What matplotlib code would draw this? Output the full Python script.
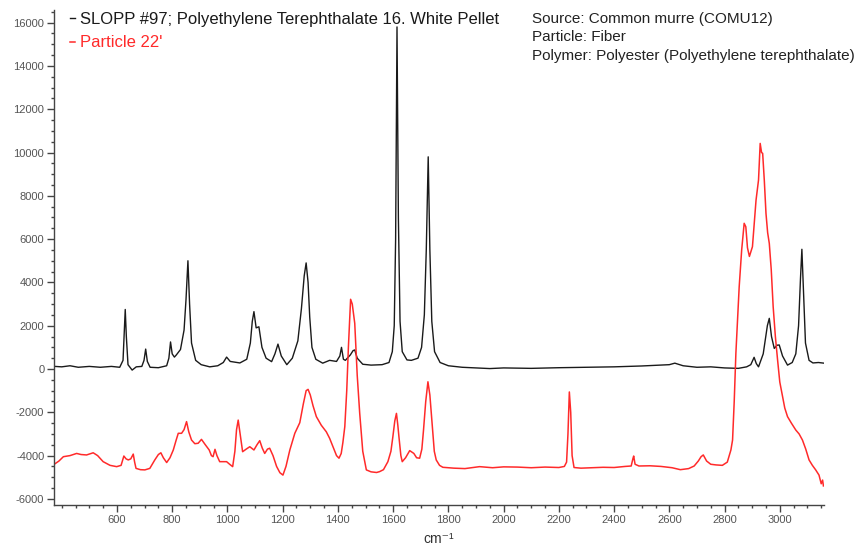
import matplotlib
matplotlib.use("Agg")
import matplotlib.pyplot as plt
from matplotlib.ticker import MultipleLocator

plt.rcParams['font.family'] = ['Liberation Sans', 'DejaVu Sans']
plt.rcParams['axes.unicode_minus'] = False

# ---- data ----
series_labels = ["SLOPP #97; Polyethylene Terephthalate 16. White Pellet", "Particle 22'"]

ref_x = [375, 400, 430, 460, 500, 540, 580, 610, 622, 627, 630, 634, 640, 655, 670, 690, 698, 704, 710, 720,
         750, 780, 788, 794, 800, 808, 815, 830, 843, 850, 857, 863, 870, 885, 905, 936, 965, 985, 997, 1010,
         1045, 1070, 1083, 1090, 1096, 1104, 1114, 1125, 1140, 1160, 1172, 1183, 1195, 1215, 1235, 1255, 1268,
         1278, 1285, 1292, 1298, 1306, 1320, 1345, 1370, 1395, 1407, 1413, 1420, 1427, 1445, 1455, 1461, 1470,
         1490, 1520, 1560, 1585, 1597, 1604, 1609, 1614, 1619, 1625, 1633, 1650, 1666, 1690, 1703, 1713, 1720,
         1727, 1733, 1740, 1750, 1770, 1800, 1850, 1900, 1950, 2000, 2100, 2200, 2300, 2400, 2500, 2600, 2620,
         2650, 2700, 2750, 2800, 2850, 2880, 2895, 2907, 2915, 2923, 2940, 2955, 2962, 2970, 2980, 2990, 2998,
         3010, 3028, 3045, 3058, 3068, 3075, 3080, 3086, 3093, 3106, 3120, 3140, 3160]
ref_y = [120, 100, 150, 80, 120, 80, 120, 80, 400, 1800, 2750, 1500, 200, -50, 100, 120, 400, 920, 350, 80,
         60, 150, 500, 1250, 700, 550, 650, 900, 1800, 3200, 5000, 3000, 1200, 400, 200, 100, 150, 300, 550, 350,
         280, 450, 1200, 2200, 2650, 1900, 1950, 1000, 500, 340, 700, 1150, 600, 200, 500, 1300, 2800,
         4300, 4900, 4000, 2400, 1000, 450, 270, 400, 350, 600, 1000, 450, 400, 650, 850, 880, 500,
         220, 180, 200, 300, 800, 2000, 6000, 15800, 7000, 2200, 800, 420, 400, 500, 1000, 2500, 5500,
         9800, 5500, 2200, 800, 300, 150, 80, 50, 20, 50, 30, 60, 80, 100, 140, 200, 270,
         150, 80, 100, 50, 30, 100, 200, 540, 250, 100, 700, 2000, 2340, 1500, 950, 1100, 1110,
         600, 180, 300, 700, 2000, 4200, 5530, 3500, 1200, 400, 280, 300, 270]

part_x = [373, 390, 406, 430, 454, 470, 490, 514, 530, 550, 575, 599, 615, 625, 633, 641, 650, 659, 664, 669,
          685, 701, 719, 737, 750, 759, 768, 780, 792, 804, 814, 822, 834, 843, 852, 860, 870, 882, 894, 906,
          920, 934, 942, 948, 955, 962, 972, 985, 997, 1008, 1019, 1027, 1033, 1039, 1045, 1055, 1068, 1081,
          1096, 1107, 1117, 1126, 1135, 1145, 1153, 1165, 1178, 1190, 1201, 1212, 1226, 1244, 1262, 1275, 1285,
          1292, 1300, 1310, 1322, 1340, 1358, 1370, 1382, 1395, 1404, 1412, 1418, 1425, 1432, 1438, 1446, 1452,
          1461, 1470, 1479, 1490, 1503, 1520, 1540, 1551, 1565, 1581, 1592, 1599, 1606, 1612, 1617, 1621, 1628,
          1633, 1645, 1660, 1675, 1685, 1696, 1704, 1710, 1718, 1726, 1733, 1742, 1749, 1756, 1768, 1780, 1820,
          1860, 1913, 1960, 2000, 2050, 2100, 2150, 2200, 2220, 2228, 2233, 2238, 2243, 2248, 2255, 2280, 2320,
          2360, 2400, 2440, 2462, 2468, 2471, 2476, 2490, 2530, 2570, 2610, 2640, 2670, 2690, 2705, 2715, 2723,
          2735, 2750, 2769, 2792, 2810, 2823, 2829, 2835, 2841, 2847, 2853, 2862, 2871, 2877, 2883, 2890, 2901,
          2908, 2914, 2923, 2929, 2934, 2938, 2944, 2950, 2956, 2962, 2969, 2976, 2984, 2992, 3000, 3010, 3018,
          3028, 3042, 3058, 3070, 3082, 3094, 3106, 3118, 3130, 3142, 3150, 3155, 3158]
part_y = [-4400, -4250, -4050, -4000, -3900, -3950, -3970, -3870, -4000, -4280, -4450, -4510, -4450, -4020, -4150,
          -4200, -4150, -3930, -4300, -4590, -4650, -4660, -4590, -4200, -3950, -3870, -4100, -4320, -4100, -3740,
          -3300, -2970, -2970, -2800, -2430, -2900, -3280, -3450, -3430, -3250, -3500, -3740, -4000, -4050, -3710,
          -4000, -4280, -4280, -4280, -4400, -4510, -3800, -2800, -2360, -2900, -3820, -3700, -3590, -3740, -3500,
          -3310, -3650, -3900, -3700, -3660, -4000, -4500, -4790, -4900, -4500, -3740, -2970, -2480, -1600, -1000,
          -940, -1200, -1700, -2200, -2600, -2900, -3200, -3590, -4000, -4120, -3900, -3400, -2660, -1000, 1000,
          3220, 3000, 2110, -300, -2050, -3800, -4660, -4750, -4780, -4740, -4650, -4280, -3800, -3130, -2400,
          -2050, -2600, -3130, -4000, -4280, -4100, -3770, -3900, -4100, -4120, -3700, -2820, -1500, -590, -1200,
          -2660, -3800, -4200, -4450, -4540, -4580, -4600, -4510, -4560, -4520, -4530, -4560, -4530, -4550, -4500,
          -4300, -3000, -1060, -2000, -4000, -4550, -4580, -4560, -4540, -4550, -4500, -4480, -4150, -4020, -4400,
          -4480, -4470, -4500, -4560, -4650, -4600, -4480, -4250, -4050, -3970, -4250, -4400, -4430, -4450, -4300,
          -3740, -3280, -1500, 720, 2300, 3800, 5500, 6730, 6570, 5600, 5200, 5650, 6800, 7800, 8730, 10420, 10000,
          9960, 8700, 7190, 6300, 5800, 4600, 2880, 1500, 420, -600, -1280, -1800, -2200, -2500, -2820, -3000,
          -3280, -3700, -4200, -4450, -4660, -4900, -5300, -5130, -5400]

info_lines = ["Source: Common murre (COMU12)", "Particle: Fiber",
              "Polymer: Polyester (Polyethylene terephthalate)"]

x_major = list(range(600, 3001, 200))
y_major = list(range(-6000, 16001, 2000))

# ---- figure ----
fig = plt.figure(figsize=(8.61, 5.50), dpi=100)
ax = fig.add_axes([0.0627, 0.0818, 0.957 - 0.0627, 0.9818 - 0.0818])

l1, = ax.plot(ref_x, ref_y, color='#1a1a1a', lw=1.0)
l2, = ax.plot(part_x, part_y, color='#ff2a2a', lw=1.1)

ax.set_xlim(372, 3160)
ax.set_ylim(-6282, 16582)
ax.set_xticks(x_major)
ax.set_yticks(y_major)
ax.xaxis.set_minor_locator(MultipleLocator(50))
ax.yaxis.set_minor_locator(MultipleLocator(500))

for s in ('top', 'right'):
    ax.spines[s].set_visible(False)
for s in ('left', 'bottom'):
    ax.spines[s].set_color('#444444')
    ax.spines[s].set_linewidth(1.0)

ax.tick_params(which='major', direction='out', length=5, width=1, color='#444444',
               labelsize=8, labelcolor='#555555', pad=2)
ax.tick_params(which='minor', direction='out', length=2.5, width=1, color='#444444')

ax.set_xlabel("cm\u207b\u00b9", fontsize=10, color='#333333', labelpad=5)

leg = ax.legend([l1, l2], series_labels, loc='upper left', bbox_to_anchor=(0.081, 0.978),
                bbox_transform=fig.transFigure, frameon=False, fontsize=12,
                handlelength=0.3, handletextpad=0.3, labelspacing=0.5,
                borderpad=0, borderaxespad=0, labelcolor='linecolor')

fig.text(0.618, 0.979, "\n".join(info_lines), ha='left', va='top', fontsize=11,
         color='#222222', linespacing=1.45)

fig.savefig("out.png", dpi=100)
